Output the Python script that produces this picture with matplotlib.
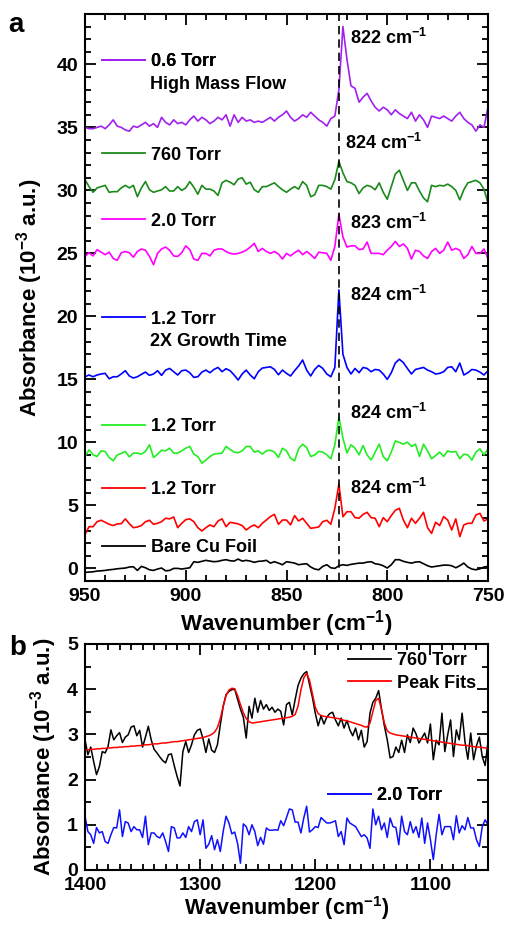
import numpy as np
import matplotlib
matplotlib.use('Agg')
import matplotlib.pyplot as plt
from matplotlib.lines import Line2D
from matplotlib.ticker import MultipleLocator

plt.rcParams['font.family'] = ['Liberation Sans', 'DejaVu Sans']
plt.rcParams['font.weight'] = 'bold'
plt.rcParams['mathtext.default'] = 'regular'

# ---- panel a: spectra 950 -> 750 cm-1, every 2 cm-1 ----
wn_a = np.arange(950, 749, -2)

bare_cu = [-0.32, -0.29, -0.27, -0.21, -0.19, -0.16, -0.11, -0.08, -0.03, 0.0,
           0.03, 0.11, 0.13, -0.16, 0.16, 0.05, -0.11, -0.16, -0.05, 0.03,
           -0.19, -0.16, 0.0, 0.0, -0.05, 0.0, 0.05, 0.53, 0.48, 0.56,
           0.64, 0.58, 0.53, 0.56, 0.64, 0.69, 0.61, 0.58, 0.74, 0.58,
           0.64, 0.58, 0.48, 0.56, 0.58, 0.64, 0.42, 0.53, 0.42, 0.29,
           0.53, 0.48, 0.42, 0.29, 0.34, 0.37, 0.11, -0.05, -0.11, 0.16,
           0.29, 0.05, 0.0, 0.21, 0.29, 0.24, 0.32, 0.37, 0.42, 0.42,
           0.5, 0.53, 0.37, 0.32, 0.21, 0.03, 0.29, 0.69, 0.69, 0.56,
           0.48, 0.42, 0.5, 0.53, 0.37, 0.21, 0.11, 0.16, 0.21, 0.26,
           0.26, 0.21, 0.05, 0.21, 0.42, 0.11, -0.05, -0.11, -0.03, 0.11,
           0.16]

red_12 = [2.7, 3.31, 3.31, 3.71, 3.82, 3.66, 3.5, 3.4, 3.53, 3.55,
          3.93, 3.55, 3.23, 3.29, 3.4, 3.71, 3.82, 3.5, 3.58, 3.71,
          3.98, 3.93, 4.08, 3.23, 3.58, 3.87, 3.93, 3.71, 3.23, 2.97,
          3.23, 3.45, 3.31, 3.76, 3.93, 3.31, 3.66, 3.6, 3.53, 3.4,
          3.05, 3.29, 3.45, 3.23, 3.58, 3.84, 4.11, 4.29, 3.5, 3.84,
          3.84, 3.45, 4.19, 3.76, 3.98, 3.58, 3.18, 3.23, 3.29, 3.71,
          3.82, 3.5, 4.77, 6.68, 4.1, 4.5, 4.5, 4.03, 3.98, 4.29,
          4.45, 4.03, 3.98, 3.31, 4.03, 3.71, 4.19, 4.61, 4.77, 3.84,
          3.23, 3.98, 3.58, 3.98, 4.45, 3.23, 2.78, 3.66, 3.4, 4.11,
          3.84, 3.05, 3.93, 2.52, 3.45, 3.58, 3.58, 4.24, 4.37, 3.76,
          3.93]

green_12 = [8.88, 9.41, 9.01, 8.88, 9.33, 9.28, 8.8, 8.54, 9.01, 9.12,
            9.28, 8.85, 9.15, 9.15, 9.07, 9.28, 9.81, 8.8, 9.07, 9.38,
            9.33, 9.54, 9.15, 9.15, 9.33, 9.54, 9.68, 9.07, 8.88, 8.35,
            8.6, 8.88, 9.07, 9.12, 9.15, 9.68, 9.44, 9.23, 9.18, 9.33,
            9.68, 9.68, 9.23, 9.33, 9.07, 9.33, 9.38, 9.23, 8.8, 9.54,
            9.33, 8.75, 8.54, 9.49, 9.86, 9.6, 8.88, 9.01, 9.28, 9.23,
            9.01, 8.7, 9.81, 12.0, 10.34, 9.15, 9.81, 9.54, 9.01, 9.75,
            9.01, 8.6, 9.23, 9.86, 8.88, 8.54, 9.23, 10.12, 10.0, 9.86,
            10.02, 9.68, 9.86, 8.88, 9.86, 9.33, 8.7, 8.96, 9.23, 8.88,
            9.33, 9.23, 9.28, 8.7, 9.07, 9.01, 8.6, 9.23, 9.49, 9.01,
            9.49]

blue_12_2x = [15.21, 15.35, 15.21, 15.35, 15.43, 15.48, 15.05, 15.21, 15.21, 15.43,
              15.69, 15.27, 15.11, 15.21, 15.4, 15.58, 15.32, 15.43, 15.69, 15.32,
              15.74, 15.87, 15.61, 15.35, 15.69, 15.74, 15.53, 15.16, 15.21, 15.58,
              15.74, 15.53, 15.79, 15.95, 15.61, 15.85, 15.69, 15.35, 14.95, 15.43,
              15.74, 15.35, 15.05, 15.61, 15.9, 15.95, 16.0, 15.79, 15.37, 15.74,
              15.48, 15.27, 15.69, 16.06, 16.54, 15.74, 15.27, 15.79, 16.11, 15.87,
              15.43, 15.21, 15.95, 22.1, 17.0, 15.95, 15.43, 15.87, 15.53, 15.95,
              15.87, 15.61, 15.79, 15.74, 15.43, 15.0, 15.53, 16.3, 16.6, 16.33,
              15.87, 15.43, 15.79, 15.87, 15.95, 15.74, 15.61, 15.43, 15.48, 15.61,
              15.95, 16.0, 15.61, 16.3, 15.35, 15.53, 15.79, 15.74, 15.58, 15.35,
              15.69]

magenta_20 = [24.76, 25.05, 24.8, 25.3, 25.1, 24.9, 25.1, 24.6, 24.45, 25.05,
              25.15, 25.05, 24.7, 25.15, 25.35, 25.25, 24.76, 24.1, 25.0, 25.35,
              25.5, 25.25, 24.8, 24.76, 25.05, 25.6, 25.3, 24.55, 24.45, 25.0,
              25.0, 24.8, 25.25, 25.35, 25.35, 25.15, 25.0, 24.95, 25.0, 25.1,
              25.25, 25.5, 25.8, 25.15, 25.4, 25.15, 25.0, 25.15, 24.95, 24.55,
              25.0, 24.8, 25.05, 25.25, 24.9, 25.15, 24.9, 24.6, 25.1, 25.05,
              25.0, 24.45, 25.55, 28.1, 26.3, 25.5, 25.6, 25.6, 25.3, 25.35,
              25.9, 25.0, 25.0, 25.0, 24.9, 25.25, 25.55, 25.95, 25.55, 25.75,
              25.4, 24.55, 25.25, 25.15, 24.8, 24.6, 25.15, 25.4, 25.0, 25.25,
              25.9, 25.25, 25.4, 25.25, 24.6, 24.9, 25.55, 25.0, 25.0, 25.35,
              24.6]

dkgreen_760 = [30.85, 30.3, 29.85, 30.2, 30.3, 30.4, 29.85, 29.9, 29.9, 30.2,
               30.4, 30.2, 30.4, 29.5, 30.2, 30.7, 30.05, 29.85, 29.95, 30.05,
               30.3, 29.95, 29.95, 30.3, 30.0, 30.2, 30.7, 30.25, 29.7, 30.4,
               30.1, 30.1, 29.95, 29.6, 30.6, 30.8, 30.65, 30.45, 30.9, 31.0,
               30.5, 30.65, 30.05, 29.85, 30.3, 30.3, 30.45, 30.6, 30.3, 30.05,
               29.85, 30.1, 30.3, 30.1, 30.7, 30.4, 29.5, 29.65, 30.4, 30.4,
               30.3, 30.1, 30.85, 32.3, 31.4, 30.7, 30.6, 30.4, 29.75, 30.2,
               30.4, 30.3, 30.05, 30.6, 29.85, 29.3, 30.3, 31.3, 31.6, 30.8,
               30.0, 30.6, 30.6, 29.95, 29.4, 29.1, 30.4, 30.3, 30.4, 30.35,
               30.5, 30.3, 30.0, 29.25, 30.05, 30.6, 30.7, 30.8, 30.6, 30.1,
               29.0]

purple_06 = [35.0, 34.9, 34.9, 35.0, 35.1, 34.9, 35.2, 35.6, 35.1, 35.0,
             34.8, 34.7, 35.1, 35.0, 35.2, 35.4, 35.1, 35.3, 35.0, 35.8,
             35.4, 35.2, 35.6, 35.3, 35.4, 35.2, 35.6, 35.9, 35.5, 35.8,
             35.6, 35.3, 35.5, 35.8, 35.6, 36.0, 35.1, 36.0, 35.4, 35.8,
             35.5, 35.6, 35.4, 35.5, 35.4, 35.6, 35.8, 35.5, 35.8, 36.0,
             36.3, 35.8, 35.5, 35.7, 36.0, 35.8, 36.2, 35.9, 35.6, 35.4,
             35.1, 35.7, 35.9, 38.0, 43.0, 40.4, 38.3, 38.1, 37.0, 37.4,
             37.7, 37.1, 36.6, 36.3, 36.6, 36.4, 36.0, 36.4, 36.1, 35.9,
             35.7, 36.2, 35.5, 36.0, 35.6, 35.0, 35.9, 35.8, 35.7, 35.9,
             35.7, 35.5, 35.9, 36.2, 35.7, 35.4, 35.2, 34.7, 35.2, 35.0,
             36.6]

series_a = [bare_cu, red_12, green_12, blue_12_2x, magenta_20, dkgreen_760, purple_06]
colors_a = ['#000000', '#FF0000', '#22EE22', '#0000FF', '#FF00FF', '#1A8A1A', '#A020F0']
labels_a = ['Bare Cu Foil', '1.2 Torr', '1.2 Torr', '1.2 Torr', '2.0 Torr', '760 Torr', '0.6 Torr']
sublabels_a = ['', '', '', '2X Growth Time', '', '', 'High Mass Flow']
# legend anchor y in pixels (from top of figure)
legend_py_a = [547.7, 490, 426.7, 319, 221, 155, 61.7]

peak_pos = 824
peak_labels = ['822', '824', '823', '824', '824', '824']
peak_label_xy = [(818.5, 42.1), (821.0, 33.8), (818.5, 27.4), (818.5, 21.7),
                 (818.5, 12.3), (818.5, 6.35)]

# ---- panel b: 1400 -> 1050 cm-1, every 2.5 cm-1 ----
wn_b = np.arange(1400, 1049, -2.5)

torr760_b = [2.88, 2.55, 2.72, 2.40, 2.11, 2.29, 2.62, 2.59, 2.73, 3.10,
             2.88, 2.97, 3.04, 2.82, 2.94, 2.99, 3.16, 3.19, 2.97, 3.09,
             2.72, 2.94, 3.18, 2.88, 2.67, 2.59, 2.50, 2.42, 2.37, 2.55,
             2.57, 2.31, 2.07, 1.86, 2.62, 2.84, 2.60, 2.77, 2.99, 3.09,
             3.12, 2.90, 2.60, 2.90, 2.65, 2.60, 2.77, 3.21, 3.62, 3.88,
             3.95, 3.99, 4.0, 3.78, 3.56, 3.38, 2.92, 3.62, 3.36, 3.80,
             3.49, 3.75, 3.56, 3.66, 3.53, 3.60, 3.49, 3.56, 3.51, 3.21,
             3.66, 3.71, 3.43, 3.77, 4.08, 4.24, 4.34, 4.39, 4.10, 3.82,
             3.47, 3.19, 3.41, 3.23, 3.38, 3.46, 3.49, 3.32, 3.19, 3.36,
             3.14, 3.31, 3.10, 2.97, 3.14, 2.88, 3.09, 2.72, 2.84, 3.47,
             3.71, 3.80, 3.97, 3.56, 3.19, 2.88, 2.48, 2.51, 2.72, 2.60,
             2.87, 2.60, 2.99, 2.82, 3.14, 3.01, 2.81, 2.92, 3.03, 2.81,
             3.23, 2.44, 2.87, 2.77, 3.47, 2.62, 2.99, 3.32, 2.51, 3.10,
             2.88, 3.47, 2.84, 2.45, 3.03, 2.44, 2.75, 2.94, 2.51, 2.31,
             2.84]

peak_fit_b = [2.66, 2.66, 2.67, 2.67, 2.68, 2.68, 2.69, 2.69, 2.70, 2.70,
              2.71, 2.71, 2.72, 2.72, 2.73, 2.73, 2.74, 2.74, 2.75, 2.75,
              2.76, 2.77, 2.77, 2.78, 2.79, 2.79, 2.80, 2.81, 2.81, 2.82,
              2.83, 2.84, 2.84, 2.85, 2.86, 2.87, 2.88, 2.89, 2.90, 2.91,
              2.92, 2.93, 2.95, 2.97, 3.00, 3.05, 3.15, 3.35, 3.62, 3.86,
              3.98, 4.02, 4.01, 3.86, 3.66, 3.48, 3.35, 3.28, 3.25, 3.26,
              3.27, 3.28, 3.29, 3.30, 3.31, 3.32, 3.33, 3.34, 3.35, 3.36,
              3.37, 3.38, 3.40, 3.44, 3.62, 3.98, 4.25, 4.35, 4.20, 3.90,
              3.60, 3.46, 3.42, 3.40, 3.39, 3.38, 3.37, 3.36, 3.35, 3.33,
              3.31, 3.30, 3.28, 3.26, 3.24, 3.22, 3.20, 3.17, 3.16, 3.25,
              3.50, 3.75, 3.80, 3.55, 3.25, 3.08, 3.03, 3.01, 2.99, 2.98,
              2.97, 2.96, 2.95, 2.94, 2.93, 2.92, 2.91, 2.90, 2.89, 2.88,
              2.87, 2.86, 2.85, 2.84, 2.83, 2.82, 2.81, 2.80, 2.79, 2.78,
              2.77, 2.76, 2.76, 2.75, 2.74, 2.73, 2.72, 2.72, 2.71, 2.70,
              2.69]

torr20_b = [1.19, 0.85, 0.78, 0.59, 0.94, 0.82, 0.85, 0.63, 0.59, 0.78,
            0.94, 0.93, 1.33, 0.74, 1.07, 1.04, 0.85, 0.96, 0.89, 0.89,
            0.72, 1.19, 0.56, 0.82, 0.82, 0.74, 0.71, 0.82, 0.63, 0.41,
            0.96, 0.93, 0.71, 0.71, 0.82, 0.72, 0.96, 0.85, 1.07, 1.11,
            0.78, 1.11, 0.48, 0.57, 0.76, 0.45, 0.67, 0.41, 0.85, 1.19,
            1.04, 0.80, 0.84, 0.59, 0.15, 1.02, 0.96, 0.78, 1.00, 0.85,
            0.54, 0.72, 0.57, 0.93, 0.88, 0.88, 0.89, 0.88, 1.09, 0.98,
            1.16, 1.35, 1.33, 1.06, 1.06, 0.82, 1.15, 1.41, 0.84, 0.89,
            0.96, 0.94, 1.16, 1.10, 1.04, 1.04, 1.06, 1.09, 0.74, 0.85,
            0.56, 1.15, 1.04, 1.00, 0.96, 0.85, 0.74, 0.78, 0.71, 0.48,
            1.35, 1.00, 1.19, 0.89, 1.04, 0.72, 1.15, 0.96, 0.94, 0.56,
            1.19, 0.85, 0.78, 1.07, 0.82, 0.96, 0.72, 1.15, 0.59, 1.04,
            0.67, 0.23, 0.78, 1.23, 0.78, 0.96, 0.96, 0.96, 0.67, 1.20,
            0.82, 0.98, 0.89, 1.16, 0.93, 0.93, 0.67, 0.52, 0.96, 1.11,
            1.00]

W, H = 505, 925
fig = plt.figure(figsize=(W / 100, H / 100), dpi=100)


def px_axes(left, top, right, bottom):
    return fig.add_axes([left / W, 1 - bottom / H, (right - left) / W, (bottom - top) / H])


def style_axes(ax):
    for sp in ax.spines.values():
        sp.set_linewidth(1.5)
    ax.tick_params(which='both', direction='in', top=True, right=True, width=1.3,
                   labelsize=14, pad=5)
    ax.tick_params(which='major', length=8)
    ax.tick_params(which='minor', length=4.5)


def add_key(ax, color, text, ax_x, ax_y, fs=13):
    h = Line2D([], [], color=color, lw=1.3)
    leg = ax.legend([h], [text], loc='center left', bbox_to_anchor=(ax_x, ax_y),
                    frameon=False, fontsize=fs, handlelength=2.4, handletextpad=0.3,
                    borderpad=0, borderaxespad=0)
    ax.add_artist(leg)


# panel a
top_a, bot_a = 14, 581
ax1 = px_axes(85, top_a, 488, bot_a)
for ys, c in zip(series_a, colors_a):
    ax1.plot(wn_a, ys, color=c, lw=1.2)
ax1.axvline(peak_pos, color='k', ls='--', lw=1.2, dashes=(5, 3))
ax1.set_xlim(950, 750)
ax1.set_ylim(-1, 44)
ax1.xaxis.set_major_locator(MultipleLocator(50))
ax1.xaxis.set_minor_locator(MultipleLocator(10))
ax1.yaxis.set_major_locator(MultipleLocator(5))
ax1.yaxis.set_minor_locator(MultipleLocator(1))
style_axes(ax1)
ax1.set_xlabel('Wavenumber (cm$^{-1}$)', fontsize=16, fontweight='bold', labelpad=2)
ax1.set_ylabel('Absorbance (10$^{-3}$ a.u.)', fontsize=16, fontweight='bold', labelpad=8)

for c, lab, sub, py in zip(colors_a, labels_a, sublabels_a, legend_py_a):
    fy = (bot_a - py) / (bot_a - top_a)
    add_key(ax1, c, lab, (102 - 85) / 403, fy)
    if sub:
        ax1.text((150 - 85) / 403, fy - 22.5 / (bot_a - top_a), sub, transform=ax1.transAxes,
                 fontsize=13, fontweight='bold', va='center', ha='left')

for lab, (tx, ty) in zip(peak_labels, peak_label_xy):
    ax1.text(tx, ty, lab + ' cm$^{-1}$', fontsize=13, fontweight='bold', va='center', ha='left')

# panel b
top_b, bot_b = 644, 870
ax2 = px_axes(85, top_b, 488, bot_b)
ax2.plot(wn_b, torr760_b, color='#000000', lw=1.1)
ax2.plot(wn_b, peak_fit_b, color='#FF0000', lw=1.1)
ax2.plot(wn_b, torr20_b, color='#1010FF', lw=1.1)
ax2.set_xlim(1400, 1050)
ax2.set_ylim(0, 5)
ax2.xaxis.set_major_locator(MultipleLocator(100))
ax2.xaxis.set_minor_locator(MultipleLocator(10))
ax2.yaxis.set_major_locator(MultipleLocator(1))
ax2.yaxis.set_minor_locator(MultipleLocator(0.5))
style_axes(ax2)
ax2.set_xlabel('Wavenumber (cm$^{-1}$)', fontsize=15.5, fontweight='bold', labelpad=0)
ax2.set_ylabel('Absorbance (10$^{-3}$ a.u.)', fontsize=16, fontweight='bold', labelpad=6)

hb = bot_b - top_b
add_key(ax2, '#000000', '760 Torr', (348 - 85) / 403, (bot_b - 660.7) / hb)
add_key(ax2, '#FF0000', 'Peak Fits', (348 - 85) / 403, (bot_b - 683.3) / hb)
add_key(ax2, '#1010FF', '2.0 Torr', (328 - 85) / 403, (bot_b - 795.7) / hb)

fig.text(16 / W, 1 - 25 / H, 'a', fontsize=20, fontweight='bold', va='center', ha='center')
fig.text(18 / W, 1 - 648 / H, 'b', fontsize=20, fontweight='bold', va='center', ha='center')

fig.savefig('out.png', dpi=100)
